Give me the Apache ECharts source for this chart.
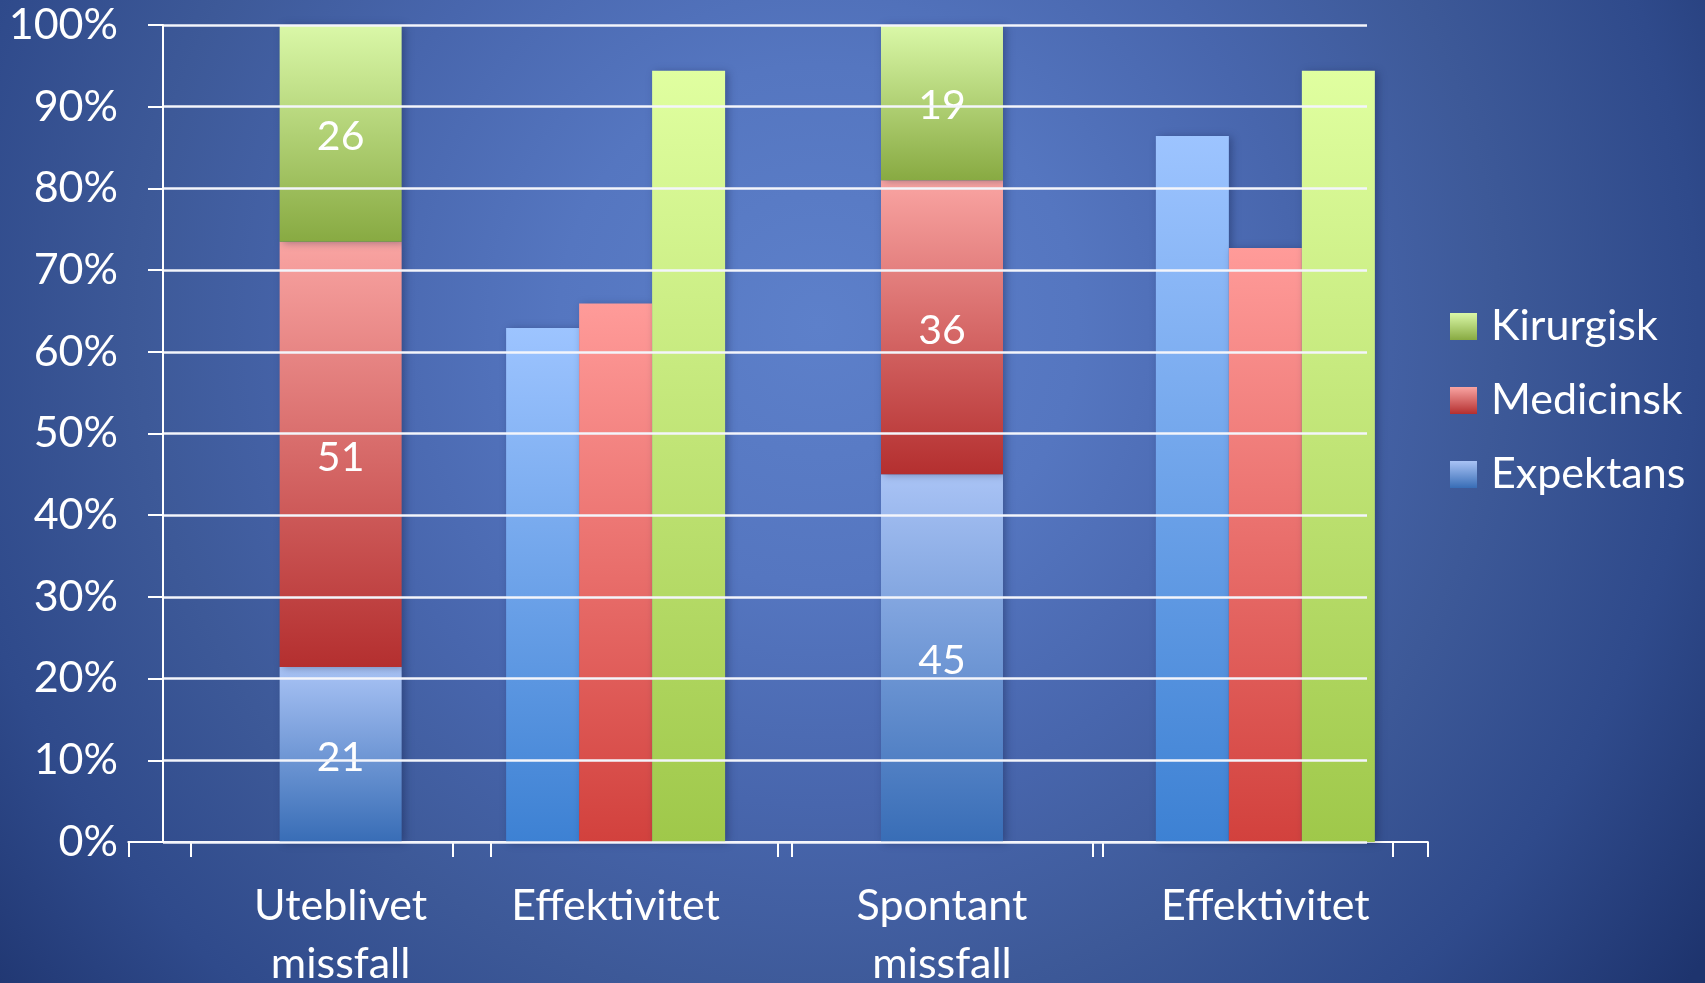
<!DOCTYPE html>
<html>
<head>
<meta charset="utf-8">
<script src="https://cdn.jsdelivr.net/npm/echarts@6/dist/echarts.min.js"></script>
<style>
  html, body { margin: 0; padding: 0; }
  #chart {
    width: 1705px; height: 983px;
    background: radial-gradient(circle at 48% 33%, #5d80ca 0px, #5576c0 260px, #4866ad 480px, #3d5998 680px, #2f4a8b 880px, #1e346e 1090px);
  }
</style>
</head>
<body>
<div id="chart"></div>
<script>
// ---- data ----
const seriesNames = ['Expektans', 'Medicinsk', 'Kirurgisk'];
const legendOrder = ['Kirurgisk', 'Medicinsk', 'Expektans'];
const stackCategories = ['Uteblivet\nmissfall', '', 'Spontant\nmissfall', ''];
const groupCategories = ['', 'Effektivitet', '', 'Effektivitet'];
// stacked (100%) counts shown as labels
const stackExpektans = [21, null, 45, null];
const stackMedicinsk = [51, null, 36, null];
const stackKirurgisk = [26, null, 19, null];
// effectiveness in percent
const effExpektans = [null, 62.9, null, 86.4];
const effMedicinsk = [null, 65.9, null, 72.7];
const effKirurgisk = [null, 94.4, null, 94.4];
const yMin = 0, yMax = 100, yStep = 10;

// ---- styles ----
const FONT = 'Lato';
function grad(top, bottom) {
  return { type: 'linear', x: 0, y: 0, x2: 0, y2: 1,
    colorStops: [{ offset: 0, color: top }, { offset: 1, color: bottom }] };
}
const stackColors = {
  Expektans: grad('#a9c3f5', '#386db6'),
  Medicinsk: grad('#f9a4a2', '#b42f2f'),
  Kirurgisk: grad('#daf8a8', '#88aa42')
};
const groupColors = {
  Expektans: grad('#9dc4ff', '#3d81d3'),
  Medicinsk: grad('#ff9b99', '#d2413d'),
  Kirurgisk: grad('#e0ffa0', '#9fc84a')
};
const shadow = { shadowColor: 'rgba(10,20,60,0.35)', shadowBlur: 8, shadowOffsetX: 3, shadowOffsetY: 1 };

// percent-stacked values
const stackRaw = { Expektans: stackExpektans, Medicinsk: stackMedicinsk, Kirurgisk: stackKirurgisk };
const totals = stackCategories.map((c, i) =>
  seriesNames.reduce((s, n) => s + (stackRaw[n][i] || 0), 0));
const effRaw = { Expektans: effExpektans, Medicinsk: effMedicinsk, Kirurgisk: effKirurgisk };

const series = [];
seriesNames.forEach(n => {
  series.push({
    name: n, type: 'bar', stack: 'pct', xAxisIndex: 1, yAxisIndex: 1,
    barWidth: 122,
    data: stackRaw[n].map((v, i) => v == null ? null : { value: v / totals[i] * 100, raw: v }),
    itemStyle: Object.assign({ color: stackColors[n] }, shadow),
    label: { show: true, position: 'inside', offset: [0, 3], color: '#ffffff', fontFamily: FONT, fontSize: 41,
      formatter: p => (p.data && p.data.raw != null) ? String(p.data.raw) : '' },
    z: 2
  });
});
seriesNames.forEach(n => {
  series.push({
    name: n, type: 'bar', xAxisIndex: 2, yAxisIndex: 2,
    barWidth: 73, barGap: '0%',
    data: effRaw[n],
    itemStyle: Object.assign({ color: groupColors[n] }, shadow),
    z: 2
  });
});

const W = 1705, H = 983;
const plotTop = 25, plotBottom = 842;
const catLabel = { interval: 0, color: '#ffffff', fontFamily: FONT, fontSize: 43, lineHeight: 58, margin: 35 };
const chart = echarts.init(document.getElementById('chart'), null, { renderer: 'canvas' });
chart.setOption({
  backgroundColor: 'transparent',
  animation: false,
  textStyle: { fontFamily: FONT },
  grid: [
    { left: 163, right: W - 1367, top: plotTop, bottom: H - plotBottom, outerBoundsMode: 'none', containLabel: false },
    { left: 190.3, right: W - 1393, top: plotTop, bottom: H - plotBottom, outerBoundsMode: 'none', containLabel: false },
    { left: 128.3, right: W - 1427.8, top: plotTop, bottom: H - plotBottom, outerBoundsMode: 'none', containLabel: false }
  ],
  xAxis: [
    { gridIndex: 0, type: 'category', data: [''], show: false },
    { gridIndex: 1, type: 'category', data: stackCategories,
      axisLine: { lineStyle: { color: '#ffffff', width: 2 } },
      axisTick: { show: true, length: 15, lineStyle: { color: '#ffffff', width: 2 } },
      axisLabel: catLabel },
    { gridIndex: 2, type: 'category', data: groupCategories,
      axisLine: { lineStyle: { color: '#ffffff', width: 2 } },
      axisTick: { show: true, length: 15, lineStyle: { color: '#ffffff', width: 2 } },
      axisLabel: catLabel }
  ],
  yAxis: [
    { gridIndex: 0, type: 'value', min: yMin, max: yMax, interval: yStep, z: 10,
      axisLine: { show: true, lineStyle: { color: '#ffffff', width: 2 } },
      axisTick: { show: true, length: 15, lineStyle: { color: '#ffffff', width: 2 } },
      splitLine: { show: true, lineStyle: { color: '#f3f5fb', width: 2.5 } },
      axisLabel: { color: '#ffffff', fontFamily: FONT, fontSize: 43, margin: 45, formatter: '{value}%' } },
    { gridIndex: 1, type: 'value', min: yMin, max: yMax, show: false },
    { gridIndex: 2, type: 'value', min: yMin, max: yMax, show: false }
  ],
  legend: {
    data: legendOrder, orient: 'vertical', left: 1450, top: 305, padding: 0,
    itemWidth: 27, itemHeight: 27, itemGap: 31, icon: 'rect',
    itemStyle: { shadowBlur: 0, shadowOffsetX: 0, shadowOffsetY: 0 },
    textStyle: { color: '#ffffff', fontFamily: FONT, fontSize: 43, lineHeight: 40, padding: [0, 0, 0, 9] }
  },
  series: series
});
</script>
</body>
</html>
